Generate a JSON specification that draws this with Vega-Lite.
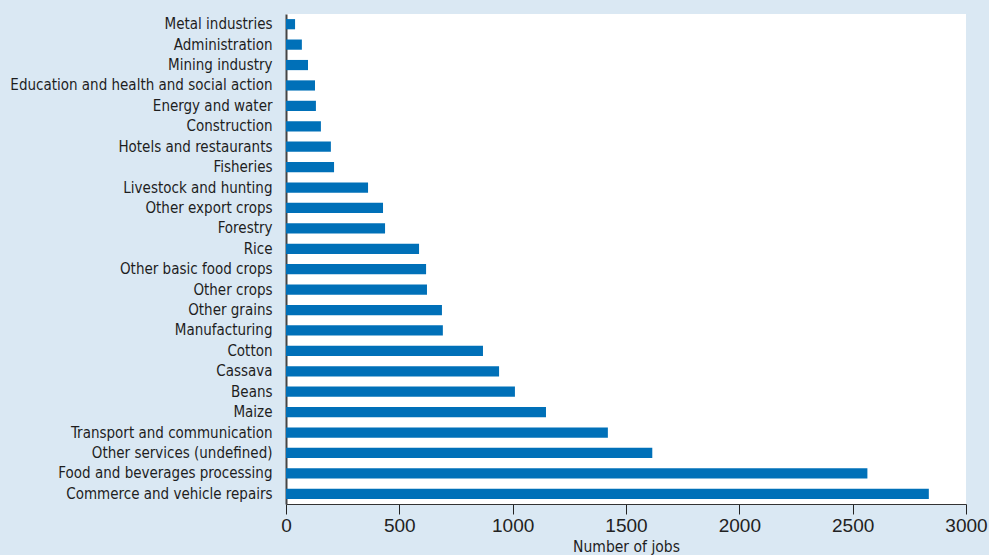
{
  "$schema": "https://vega.github.io/schema/vega-lite/v6.json",
  "width": 680,
  "height": 490,
  "autosize": {"type": "none"},
  "padding": {"left": 286, "top": 14, "right": 23, "bottom": 51},
  "background": "#dae8f3",
  "view": {"fill": "#ffffff", "stroke": null},
  "data": {
    "values": [
      {"sector": "Metal industries", "jobs": 40},
      {"sector": "Administration", "jobs": 70},
      {"sector": "Mining industry", "jobs": 97},
      {"sector": "Education and health and social action", "jobs": 128},
      {"sector": "Energy and water", "jobs": 132},
      {"sector": "Construction", "jobs": 154},
      {"sector": "Hotels and restaurants", "jobs": 198},
      {"sector": "Fisheries", "jobs": 212},
      {"sector": "Livestock and hunting", "jobs": 362},
      {"sector": "Other export crops", "jobs": 428},
      {"sector": "Forestry", "jobs": 437},
      {"sector": "Rice", "jobs": 587},
      {"sector": "Other basic food crops", "jobs": 618},
      {"sector": "Other crops", "jobs": 622},
      {"sector": "Other grains", "jobs": 688},
      {"sector": "Manufacturing", "jobs": 692},
      {"sector": "Cotton", "jobs": 869},
      {"sector": "Cassava", "jobs": 940},
      {"sector": "Beans", "jobs": 1010},
      {"sector": "Maize", "jobs": 1147},
      {"sector": "Transport and communication", "jobs": 1420},
      {"sector": "Other  services (undefined)", "jobs": 1616},
      {"sector": "Food and beverages processing", "jobs": 2565},
      {"sector": "Commerce and vehicle repairs", "jobs": 2836}
    ]
  },
  "mark": {"type": "bar", "color": "#0070b8"},
  "encoding": {
    "y": {
      "field": "sector",
      "type": "nominal",
      "sort": null,
      "scale": {"paddingInner": 0.5, "paddingOuter": 0.25},
      "axis": {
        "title": null,
        "ticks": false,
        "labelPadding": 14,
        "labelFont": "DejaVu Sans Condensed",
        "labelFontSize": 15,
        "labelColor": "#1e1e1e",
        "domainColor": "#444444",
        "domainWidth": 2,
        "labelLimit": 400
      }
    },
    "x": {
      "field": "jobs",
      "type": "quantitative",
      "scale": {"domain": [0, 3000], "nice": false},
      "axis": {
        "title": "Number of jobs",
        "values": [0, 500, 1000, 1500, 2000, 2500, 3000],
        "format": "d",
        "grid": false,
        "tickSize": 10,
        "tickColor": "#222222",
        "domainColor": "#333333",
        "domainWidth": 1,
        "labelFont": "Liberation Sans",
        "labelFontSize": 19,
        "labelColor": "#222222",
        "labelPadding": 2,
        "labelFlush": false,
        "titleFont": "DejaVu Sans Condensed",
        "titleFontSize": 15.5,
        "titleFontWeight": "normal",
        "titleColor": "#1e1e1e",
        "titlePadding": 4
      }
    }
  }
}
